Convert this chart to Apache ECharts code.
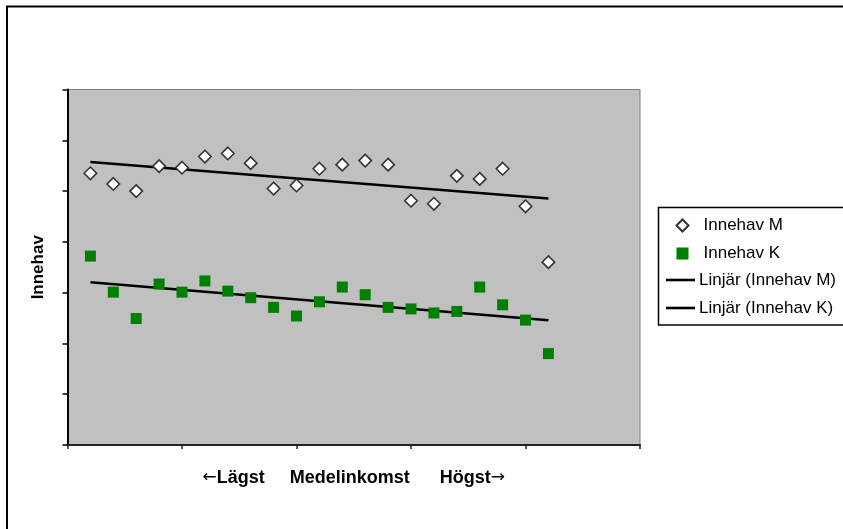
<!DOCTYPE html>
<html>
<head>
<meta charset="utf-8">
<script src="https://cdn.jsdelivr.net/npm/echarts@6/dist/echarts.min.js"></script>
<style>
html,body{margin:0;padding:0;background:#fff;}
#c{width:843px;height:529px;}
</style>
</head>
<body>
<div id="c"></div>
<script>
// Position along the income axis (1 = lowest ... 21 = highest)
var positions = [1,2,3,4,5,6,7,8,9,10,11,12,13,14,15,16,17,18,19,20,21];
var innehavM = [5.35,5.14,5.00,5.49,5.46,5.68,5.74,5.55,5.05,5.11,5.44,5.52,5.60,5.52,4.81,4.75,5.30,5.24,5.44,4.70,3.60];
var innehavK = [3.72,3.01,2.49,3.17,3.01,3.23,3.03,2.90,2.71,2.54,2.82,3.11,2.96,2.71,2.68,2.60,2.63,3.11,2.76,2.46,1.80];
var seriesNames = ['Innehav M','Innehav K','Linjär (Innehav M)','Linjär (Innehav K)'];
var xTitle = '{a|←}Lägst     Medelinkomst      Högst{a|→}';
var yTitle = 'Innehav';

function pairs(xs, ys){ return xs.map(function(x,i){ return [x, ys[i]]; }); }
function linFit(xs, ys){
  var n = xs.length, sx=0, sy=0, sxx=0, sxy=0;
  for (var i=0;i<n;i++){ sx+=xs[i]; sy+=ys[i]; sxx+=xs[i]*xs[i]; sxy+=xs[i]*ys[i]; }
  var b = (n*sxy - sx*sy)/(n*sxx - sx*sx);
  var a = (sy - b*sx)/n;
  var x0 = xs[0], x1 = xs[n-1];
  return [[x0, a+b*x0],[x1, a+b*x1]];
}

var chart = echarts.init(document.getElementById('c'), null, {renderer:'canvas'});
var font = 'Liberation Sans, Arial, sans-serif';
chart.setOption({
  animation:false,
  backgroundColor:'#ffffff',
  textStyle:{fontFamily:font},
  graphic:[
    {type:'rect', shape:{x:7, y:6.5, width:900, height:600}, style:{fill:'none', stroke:'#000', lineWidth:2}, z:-1},
    {type:'rect', shape:{x:658.5, y:207.5, width:300, height:117.5}, style:{fill:'#fff', stroke:'#000', lineWidth:1.5}, z:0}
  ],
  grid:{left:67.5, top:89.5, right:203, bottom:84, show:true, backgroundColor:'#C0C0C0', borderColor:'#808080', borderWidth:1},
  xAxis:{
    type:'value', min:0, max:25, interval:5,
    name:xTitle, nameLocation:'middle', nameGap:24,
    nameTextStyle:{fontFamily:font, fontSize:18, fontWeight:'bold', color:'#000',
      rich:{a:{fontFamily:'DejaVu Sans', fontSize:17, fontWeight:'normal', color:'#000'}}},
    axisLine:{show:true, onZero:false, lineStyle:{color:'#222', width:2}},
    axisTick:{show:true, length:4, lineStyle:{color:'#222', width:1.5}},
    axisLabel:{show:false},
    splitLine:{show:false}
  },
  yAxis:{
    type:'value', min:0, max:7, interval:1,
    name:yTitle, nameLocation:'middle', nameGap:21,
    nameTextStyle:{fontFamily:font, fontSize:17, fontWeight:'bold', color:'#000'},
    axisLine:{show:true, onZero:false, lineStyle:{color:'#000', width:2}},
    axisTick:{show:true, length:5, lineStyle:{color:'#000', width:1.5}},
    axisLabel:{show:false},
    splitLine:{show:false}
  },
  legend:[
    {
      data:[seriesNames[0], seriesNames[1]],
      orient:'vertical', left:675.5, top:217, padding:0,
      itemWidth:12, itemHeight:12, itemGap:11,
      textStyle:{fontFamily:font, fontSize:17, color:'#000', padding:[0,0,0,10]},
      z:5
    },
    {
      data:[
        {name:seriesNames[2], icon:'rect', itemStyle:{color:'#000'}},
        {name:seriesNames[3], icon:'rect', itemStyle:{color:'#000'}}
      ],
      orient:'vertical', left:666, top:271.5, padding:0,
      itemWidth:29, itemHeight:2.6, itemGap:11,
      textStyle:{fontFamily:font, fontSize:17, color:'#000', padding:[0,0,0,-1]},
      z:5
    }
  ],
  series:[
    {
      name:seriesNames[0], type:'scatter', symbol:'diamond', symbolSize:12.5,
      itemStyle:{color:'#ffffff', borderColor:'#333333', borderWidth:1.6, opacity:1},
      data:pairs(positions, innehavM), z:3
    },
    {
      name:seriesNames[1], type:'scatter', symbol:'rect', symbolSize:11,
      itemStyle:{color:'#008000', opacity:1},
      data:pairs(positions, innehavK), z:3
    },
    {
      name:seriesNames[2], type:'line', symbol:'none', showSymbol:false,
      lineStyle:{color:'#000', width:2.5}, itemStyle:{color:'#000'},
      data:linFit(positions, innehavM), z:2
    },
    {
      name:seriesNames[3], type:'line', symbol:'none', showSymbol:false,
      lineStyle:{color:'#000', width:2.5}, itemStyle:{color:'#000'},
      data:linFit(positions, innehavK), z:2
    }
  ]
});
</script>
</body>
</html>
